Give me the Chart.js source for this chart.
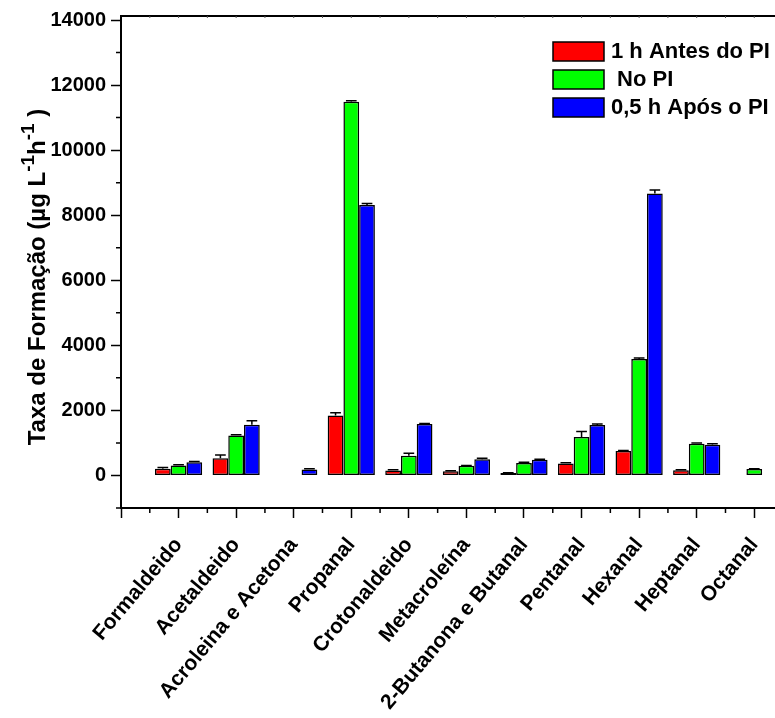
<!DOCTYPE html>
<html>
<head>
<meta charset="utf-8">
<script src="https://cdn.jsdelivr.net/npm/chart.js@4.4.0/dist/chart.umd.min.js"></script>
<style>
    html, body { margin: 0; padding: 0; background: #fff; }
</style>
</head>
<body>
<canvas id="chart" width="775" height="718"></canvas>
<script>
"use strict";

// Dados
const categories = ["Formaldeido", "Acetaldeido", "Acroleina e Acetona", "Propanal", "Crotonaldeido",
    "Metacroleína", "2-Butanona e Butanal", "Pentanal", "Hexanal", "Heptanal", "Octanal"];
const seriesLabels = ["1 h Antes do PI", " No PI", "0,5 h Após o PI"];
const seriesColors = ["#ff0000", "#00ff00", "#0000ff"];

const antes = [206, 532, null, 1846, 154, 133, 72, 369, 749, 164, null];
const antesErr = [40, 100, null, 80, 20, 10, 10, 20, 20, 10, null];
const noPI = [308, 1231, null, 11490, 606, 298, 380, 1180, 3580, 975, 195];
const noPIErr = [20, 20, null, 30, 80, 10, 30, 175, 30, 20, 10];
const apos = [410, 1560, 185, 8317, 1579, 502, 482, 1549, 8668, 944, null];
const aposErr = [20, 120, 20, 40, 20, 30, 20, 30, 110, 30, null];

const yTicks = [0, 2000, 4000, 6000, 8000, 10000, 12000, 14000];
const yMinorTicks = [-1000, 1000, 3000, 5000, 7000, 9000, 11000, 13000];

const FONT = "'Liberation Sans', Arial, sans-serif";

function toPoints(values) {
    return values.map((v, i) => ({ x: i + 1, y: v }));
}

// Barras de erro (somente para cima)
const errorBars = {
    id: 'errorBars',
    afterDatasetsDraw(chart) {
        const ctx = chart.ctx;
        const y = chart.scales.y;
        const errs = [antesErr, noPIErr, aposErr];
        ctx.save();
        ctx.strokeStyle = '#000';
        ctx.lineWidth = 1.5;
        chart.data.datasets.forEach((ds, d) => {
            const meta = chart.getDatasetMeta(d);
            meta.data.forEach((bar, i) => {
                const v = ds.data[i].y;
                const e = errs[d][i];
                if (v === null || !e) return;
                const top = y.getPixelForValue(v + e);
                const base = y.getPixelForValue(v);
                const half = bar.width * 0.34;
                ctx.beginPath();
                ctx.moveTo(bar.x, base);
                ctx.lineTo(bar.x, top);
                ctx.moveTo(bar.x - half, top);
                ctx.lineTo(bar.x + half, top);
                ctx.stroke();
            });
        });
        ctx.restore();
    }
};

// Ticks menores, borda superior, legenda e título do eixo y
const extras = {
    id: 'extras',
    afterDraw(chart) {
        const { ctx, chartArea, scales: { x, y } } = chart;
        ctx.save();
        ctx.strokeStyle = '#000';
        ctx.lineWidth = 1.5;
        ctx.beginPath();
        yMinorTicks.forEach(v => {
            const py = y.getPixelForValue(v);
            ctx.moveTo(chartArea.left - 5, py);
            ctx.lineTo(chartArea.left, py);
        });
        for (let v = 0.5; v < x.max; v += 1) {
            const px = x.getPixelForValue(v);
            ctx.moveTo(px, chartArea.bottom);
            ctx.lineTo(px, chartArea.bottom + 5);
        }
        ctx.stroke();

        // borda superior
        ctx.lineWidth = 2;
        ctx.beginPath();
        ctx.moveTo(chartArea.left, chartArea.top);
        ctx.lineTo(chartArea.right, chartArea.top);
        ctx.stroke();
        ctx.lineWidth = 1;
        ctx.strokeStyle = '#555';
        ctx.beginPath();
        for (let v = 0.5; v < x.max; v += 0.5) {
            const px = x.getPixelForValue(v);
            ctx.moveTo(px, chartArea.top);
            ctx.lineTo(px, chartArea.top + 2);
        }
        ctx.stroke();

        // legenda
        ctx.font = "bold 22px " + FONT;
        ctx.textBaseline = 'middle';
        ctx.textAlign = 'left';
        seriesLabels.forEach((label, i) => {
            const bx = chartArea.right - 222;
            const by = 42 + i * 28;
            ctx.fillStyle = seriesColors[i];
            ctx.fillRect(bx, by, 51, 19);
            ctx.strokeStyle = '#000';
            ctx.lineWidth = 1.5;
            ctx.strokeRect(bx, by, 51, 19);
            ctx.fillStyle = '#000';
            ctx.fillText(label, bx + 58, by + 10);
        });

        // título do eixo y com sobrescritos
        const parts = [
            ["Taxa de Formação (µg L", false],
            ["-1", true],
            ["h", false],
            ["-1", true],
            [" )", false]
        ];
        const big = "bold 24px " + FONT;
        const small = "bold 19px " + FONT;
        let total = 0;
        parts.forEach(([t, sup]) => { ctx.font = sup ? small : big; total += ctx.measureText(t).width; });
        ctx.translate(45, 277);
        ctx.rotate(-Math.PI / 2);
        ctx.textBaseline = 'alphabetic';
        let pos = -total / 2;
        parts.forEach(([t, sup]) => {
            ctx.font = sup ? small : big;
            ctx.fillText(t, pos, sup ? -11 : 0);
            pos += ctx.measureText(t).width;
        });
        ctx.restore();
    }
};

const ctx = document.getElementById('chart').getContext('2d');
new Chart(ctx, {
    type: 'bar',
    data: {
        datasets: [antes, noPI, apos].map((values, i) => ({
            label: seriesLabels[i],
            data: toPoints(values),
            backgroundColor: seriesColors[i],
            borderColor: '#000',
            borderWidth: 1.5,
            borderSkipped: false,
            categoryPercentage: 0.82,
            barPercentage: 1.0
        }))
    },
    options: {
        responsive: false,
        animation: false,
        devicePixelRatio: 1,
        layout: { padding: { top: 16, right: 0, left: 0, bottom: 0 } },
        plugins: {
            legend: { display: false },
            tooltip: { enabled: false }
        },
        scales: {
            x: {
                type: 'linear',
                min: 0,
                max: 11.36,
                offset: false,
                afterFit: scale => {
                    scale.height = 210;
                    scale.paddingLeft = 0;
                    scale.paddingRight = 0;
                },
                afterBuildTicks: scale => {
                    scale.ticks = [0, 1, 2, 3, 4, 5, 6, 7, 8, 9, 10, 11].map(v => ({ value: v }));
                },
                grid: {
                    offset: false,
                    drawOnChartArea: false,
                    drawTicks: true,
                    tickLength: 10,
                    tickColor: '#000',
                    tickWidth: 1.5
                },
                border: { display: true, color: '#000', width: 2 },
                ticks: {
                    autoSkip: false,
                    minRotation: 50,
                    maxRotation: 50,
                    padding: 15,
                    color: '#000',
                    font: { family: FONT, size: 21, weight: 'bold' },
                    callback: value => categories[value - 1] || ''
                }
            },
            y: {
                min: -1000,
                max: 14123,
                afterFit: scale => {
                    scale.width = 121;
                    scale.paddingTop = 0;
                    scale.paddingBottom = 0;
                },
                afterBuildTicks: scale => {
                    scale.ticks = yTicks.map(v => ({ value: v }));
                },
                grid: {
                    drawOnChartArea: false,
                    drawTicks: true,
                    tickLength: 10,
                    tickColor: '#000',
                    tickWidth: 1.5
                },
                border: { display: true, color: '#000', width: 2 },
                ticks: {
                    padding: 5,
                    color: '#000',
                    font: { family: FONT, size: 20, weight: 'bold' },
                    callback: value => String(value)
                }
            }
        }
    },
    plugins: [errorBars, extras]
});
</script>
</body>
</html>
